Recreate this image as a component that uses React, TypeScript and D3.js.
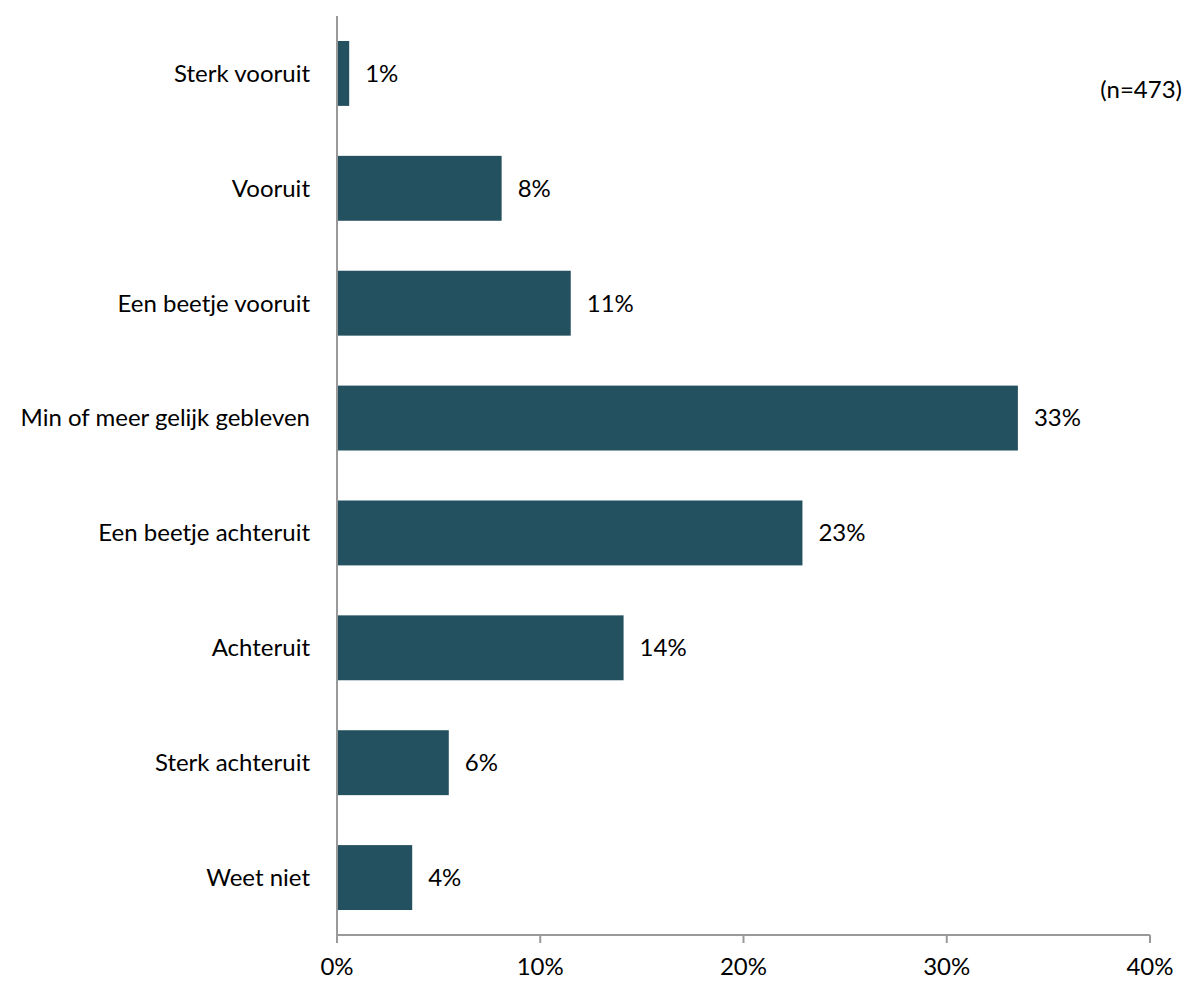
import React from "react";
import * as d3 from "d3";

const categories = [
  "Sterk vooruit",
  "Vooruit",
  "Een beetje vooruit",
  "Min of meer gelijk gebleven",
  "Een beetje achteruit",
  "Achteruit",
  "Sterk achteruit",
  "Weet niet",
];
const values = [0.6, 8.1, 11.5, 33.5, 22.9, 14.1, 5.5, 3.7];
const valueLabels = ["1%", "8%", "11%", "33%", "23%", "14%", "6%", "4%"];
const xTicks = [0, 10, 20, 30, 40];
const note = "(n=473)";

const W = 1186;
const H = 981;
const left = 337;
const right = 1150;
const top = 16;
const bottom = 935;
const font = "Lato, 'Open Sans', sans-serif";
const barColor = "#23515F";
const axisColor = "#999999";
const fs = 24;

export default function App() {
  const x = d3.scaleLinear().domain([0, 40]).range([left, right]);
  const y = d3
    .scaleBand<string>()
    .domain(categories)
    .range([top, bottom])
    .paddingInner(0.435)
    .paddingOuter(0.2175);

  return (
    <svg
      width={W}
      height={H}
      style={{ position: "absolute", left: 0, top: 0, background: "#fff" }}
      fontFamily={font}
    >
      {categories.map((c, i) => {
        const by = y(c)!;
        const bh = y.bandwidth();
        const xe = x(values[i]);
        return (
          <g key={c}>
            <rect x={x(0) + 1} y={by} width={xe - x(0) - 1} height={bh} fill={barColor} />
            <text x={xe + 16} y={by + bh / 2} dy="0.35em" fontSize={fs} fill="#000">
              {valueLabels[i]}
            </text>
            <text
              x={left - 27}
              y={by + bh / 2}
              dy="0.35em"
              textAnchor="end"
              fontSize={fs}
              fill="#000"
            >
              {c}
            </text>
          </g>
        );
      })}
      <line x1={left} x2={left} y1={top} y2={bottom} stroke={axisColor} strokeWidth={2} />
      <line x1={left} x2={right} y1={bottom} y2={bottom} stroke={axisColor} strokeWidth={2} />
      {xTicks.map((t) => (
        <g key={t}>
          <line x1={x(t)} x2={x(t)} y1={bottom} y2={bottom + 8} stroke={axisColor} strokeWidth={2} />
          <text x={x(t)} y={975} textAnchor="middle" fontSize={fs} fill="#000">
            {t + "%"}
          </text>
        </g>
      ))}
      <text x={1182} y={90} dy="0.35em" textAnchor="end" fontSize={fs} fill="#000">
        {note}
      </text>
    </svg>
  );
}
